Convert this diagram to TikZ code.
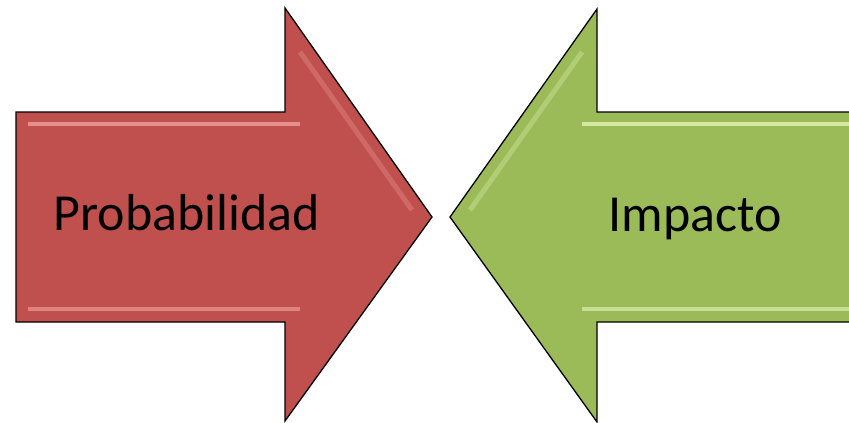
\documentclass[tikz,border=0pt]{standalone}
\usepackage{fontspec}
\setmainfont{Carlito}
\definecolor{probred}{HTML}{C0504D}
\definecolor{probhigh}{HTML}{F4A6A3}
\definecolor{impgreen}{HTML}{9BBB59}
\definecolor{imphigh}{HTML}{E6F7B8}
\tikzset{
  bigarrow/.style={draw=black, line width=1.3pt, line join=miter},
  bevel/.style={line width=4pt, opacity=0.75, line cap=butt},
  arrowtext/.style={font=\fontsize{52}{60}\selectfont, text=black, anchor=base}
}
\begin{document}
\begin{tikzpicture}[x=1pt,y=-1pt]
\useasboundingbox (0,0) rectangle (849,423);
\clip (0,0) rectangle (849,423);

% red arrow, pointing right
\fill[probred] (16,112) -- (285,112) -- (285,8) -- (432,217) -- (285,421) -- (285,322) -- (16,322) -- cycle;
\draw[bevel, probhigh] (28,124) -- (300,124);
\draw[bevel, probhigh, opacity=0.6] (28,309) -- (300,309);
\draw[bevel, probhigh, opacity=0.3, line width=5pt] (300,52) -- (412,210);
\draw[bigarrow] (16,112) -- (285,112) -- (285,8) -- (432,217) -- (285,421) -- (285,322) -- (16,322) -- cycle;

% green arrow, pointing left
\fill[impgreen] (860,112) -- (597,112) -- (597,9) -- (450,217) -- (597,422) -- (597,322) -- (860,322) -- cycle;
\draw[bevel, imphigh] (860,124) -- (582,124);
\draw[bevel, imphigh, opacity=0.6] (860,309) -- (582,309);
\draw[bevel, imphigh, opacity=0.3, line width=5pt] (582,52) -- (470,210);
\draw[bigarrow] (860,112) -- (597,112) -- (597,9) -- (450,217) -- (597,422) -- (597,322) -- (860,322) -- cycle;

\node[arrowtext] (prob) at (187,230) {Probabilidad};
\node[arrowtext] (imp) at (695,231) {Impacto};
\end{tikzpicture}
\end{document}
